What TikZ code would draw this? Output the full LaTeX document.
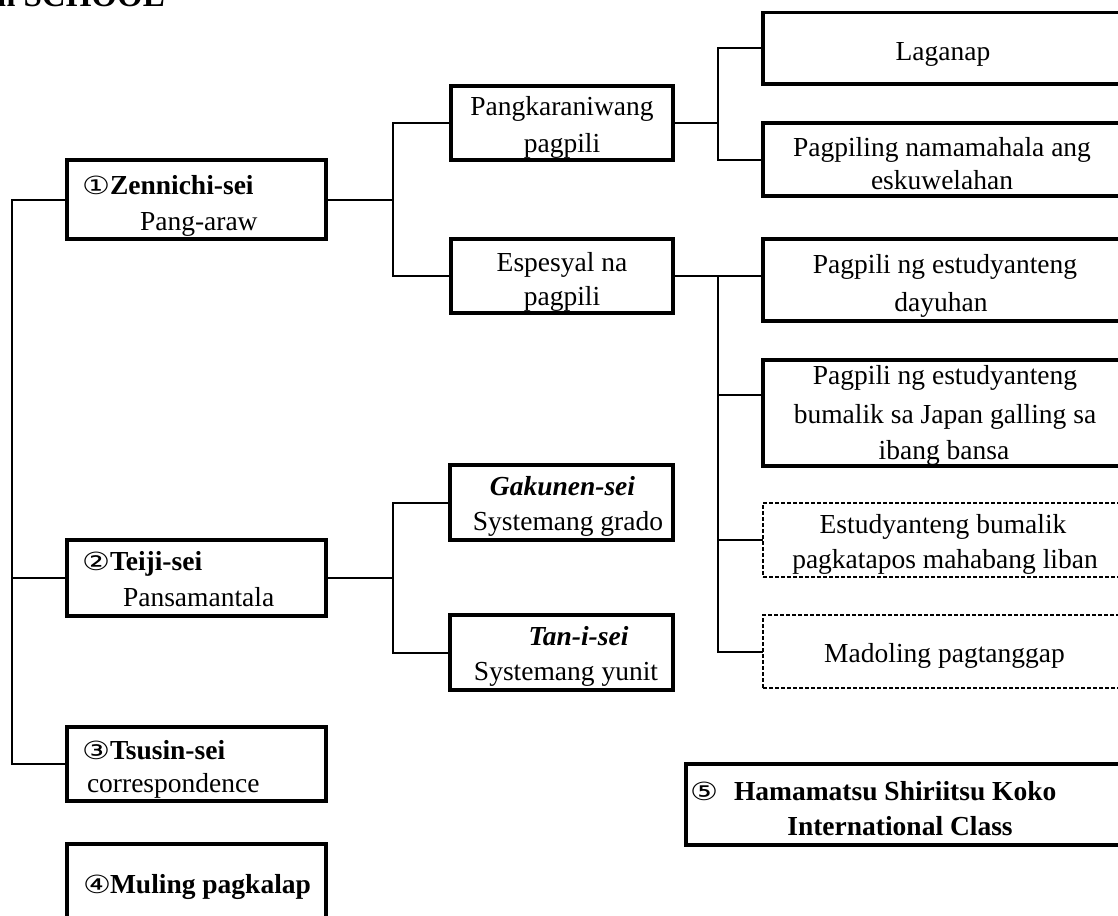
\documentclass[tikz,border=0pt]{standalone}
\usepackage{fontspec}
\setmainfont{Liberation Serif}
\newfontfamily\circfnt{DejaVu Sans}[FakeStretch=1.25]
\newcommand\mainsz{\fontsize{27.5}{35}\selectfont}
\newcommand\cdig[2]{\makebox[#2][l]{\circfnt\fontsize{25}{35}\selectfont #1}}
\tikzset{
  box/.style={draw, rectangle, line width=3.2pt, inner sep=0pt, outer sep=0pt},
  dbox/.style={draw, rectangle, line width=2pt, dash pattern=on 4pt off 2pt, inner sep=0pt, outer sep=0pt},
  conn/.style={line width=2pt},
  txt/.style={inner sep=0pt, outer sep=0pt, anchor=base, font=\mainsz},
  txtl/.style={txt, anchor=base west},
}
\begin{document}
\begin{tikzpicture}[x=1pt, y=-1pt]
\useasboundingbox (0,0) rectangle (1118,915);
\clip (0,0) rectangle (1118,915);
\fill[white] (0,0) rectangle (1118,915);

% title (cut off at the top)
\node[inner sep=0pt, anchor=base east, font=\fontsize{33}{40}\selectfont\bfseries] (title) at (165,6.5) {High SCHOOL};

% boxes
\node[box, minimum width=259pt, minimum height=79pt] (Z) at (196.5,199.5) {};
\node[box, minimum width=222pt, minimum height=74pt] (P1) at (562,123) {};
\node[box, minimum width=222pt, minimum height=74pt] (P2) at (562,276) {};
\node[box, minimum width=358pt, minimum height=71.3pt] (L) at (942,48.3) {};
\node[box, minimum width=358pt, minimum height=73pt] (S) at (942,159.5) {};
\node[box, minimum width=358pt, minimum height=82pt] (D) at (942,280) {};
\node[box, minimum width=358pt, minimum height=106pt] (J) at (942,413) {};
\node[dbox, minimum width=358pt, minimum height=74pt] (E) at (942,540) {};
\node[dbox, minimum width=358pt, minimum height=73pt] (M) at (942,651.5) {};
\node[box, minimum width=259pt, minimum height=76pt] (T) at (196.5,578) {};
\node[box, minimum width=223pt, minimum height=75pt] (G) at (561.5,502.5) {};
\node[box, minimum width=223pt, minimum height=75pt] (Ti) at (561.5,652.5) {};
\node[box, minimum width=259pt, minimum height=74pt] (Ts) at (196.5,764) {};
\node[box, minimum width=259pt, minimum height=96pt] (Mu) at (196.5,892) {};
\node[box, minimum width=435pt, minimum height=81pt] (H) at (903.5,804.5) {};

% connectors
\draw[conn] (Z.west) -- ++(-55,0) |- (Ts.west);
\draw[conn] (T.west) -- ++(-55,0);
\draw[conn] (Z.east) -- ++(67,0);
\draw[conn] (P1.west) -- ++(-58,0) |- (P2.west);
\draw[conn] (P1.east) -- ++(45,0);
\draw[conn] (L.west) -- ++(-45.5,0) |- (S.west);
\draw[conn] (P2.east) -- (P2.east -| D.west);
\draw[conn] ([xshift=44.5pt]P2.east) |- (M.west);
\draw[conn] ([yshift=18pt]J.west) -- ++(-45.5,0);
\draw[conn] (E.west) -- ++(-45.5,0);
\draw[conn] (T.east) -- ++(67,0);
\draw[conn] (G.west) -- ++(-57.5,0) |- (Ti.west);

% texts
\node[txtl] (z1) at (82,194) {\cdig{①}{28pt}\textbf{Zennichi-sei}};
\node[txtl] (z2) at (140,230) {Pang-araw};
\node[txt] (p1a) at (562,116) {Pangkaraniwang};
\node[txt] (p1b) at (562,152) {pagpili};
\node[txt] (p2a) at (562,271) {Espesyal na};
\node[txt] (p2b) at (562,305) {pagpili};
\node[txt] (la) at (943,61) {Laganap};
\node[txt] (sa) at (942,157) {Pagpiling namamahala ang};
\node[txt] (sb) at (942,189.5) {eskuwelahan};
\node[txt] (da) at (945,273) {Pagpili ng estudyanteng};
\node[txt] (db) at (941,311.5) {dayuhan};
\node[txt] (ja) at (945,384.5) {Pagpili ng estudyanteng};
\node[txt] (jb) at (945,423) {bumalik sa Japan galling sa};
\node[txt] (jc) at (944,459) {ibang bansa};
\node[txt] (ea) at (943,533.5) {Estudyanteng bumalik};
\node[txt] (eb) at (945,568.5) {pagkatapos mahabang liban};
\node[txt] (ma) at (944.5,662.5) {Madoling pagtanggap};
\node[txtl] (ta) at (82,570) {\cdig{②}{28pt}\textbf{Teiji-sei}};
\node[txtl] (tb) at (123,606) {Pansamantala};
\node[txt] (ga) at (562.5,495) {\textbf{\textit{Gakunen-sei}}};
\node[txt] (gb) at (568,530) {Systemang grado};
\node[txt] (tia) at (578.5,645) {\textbf{\textit{Tan-i-sei}}};
\node[txt] (tib) at (566,680) {Systemang yunit};
\node[txtl] (tsa) at (82,759.5) {\cdig{③}{28pt}\textbf{Tsusin-sei}};
\node[txtl] (tsb) at (87,792) {correspondence};
\node[txtl] (mua) at (83,893) {\cdig{④}{27pt}\textbf{Muling pagkalap}};
\node[txtl] (ha) at (690,800) {\cdig{⑤}{44pt}\textbf{Hamamatsu Shiriitsu Koko}};
\node[txt] (hb) at (900,835) {\textbf{International Class}};
\end{tikzpicture}
\end{document}
